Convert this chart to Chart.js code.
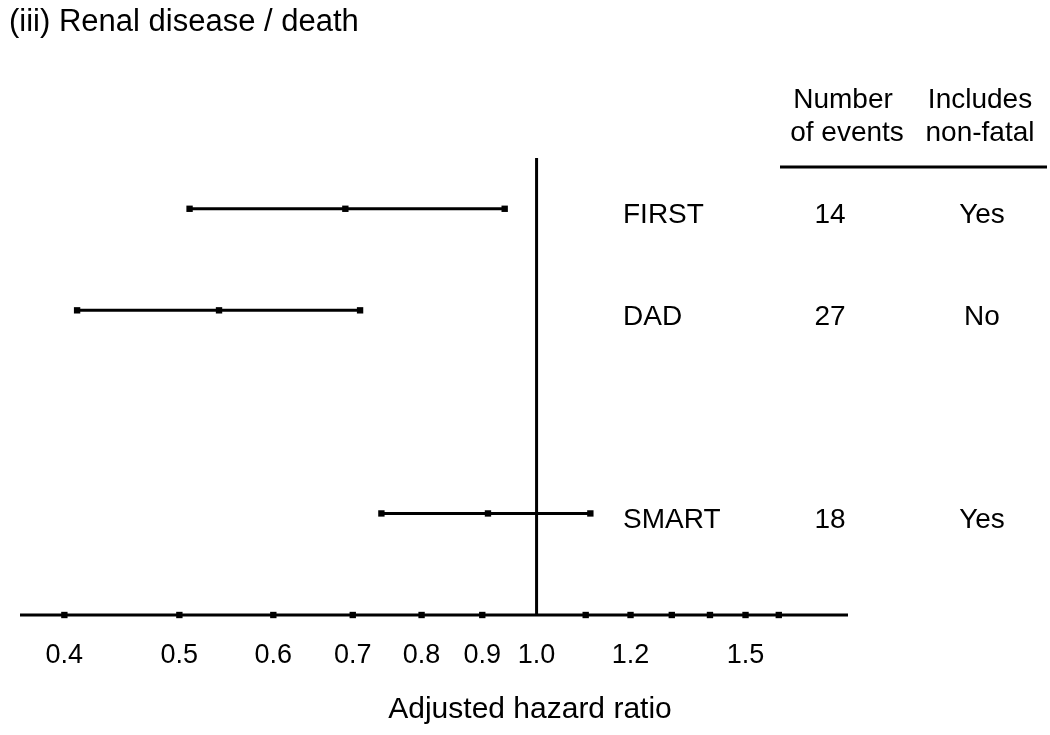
<!DOCTYPE html>
<html>
<head>
<meta charset="utf-8">
<script src="https://cdn.jsdelivr.net/npm/chart.js@4.4.1/dist/chart.umd.min.js"></script>
<style>
	html, body { margin: 0; padding: 0; background: #fff; }
	#wrap { width: 1050px; height: 735px; position: relative; }
</style>
</head>
<body>
<div id="wrap"><canvas id="plot" width="1050" height="735"></canvas></div>
<script>
// study rows
const studies = ['FIRST', 'DAD', 'SMART'];
const rows = [1, 2, 4];
const hr = [0.69, 0.54, 0.91];
const lower = [0.51, 0.41, 0.74];
const upper = [0.94, 0.71, 1.11];
const events = ['14', '27', '18'];
const nonFatal = ['Yes', 'No', 'Yes'];

// x axis
const tickValues = [0.4, 0.5, 0.6, 0.7, 0.8, 0.9, 1.1, 1.2, 1.3, 1.4, 1.5, 1.6];
const tickLabels = ['0.4', '0.5', '0.6', '0.7', '0.8', '0.9', '1.0', '1.2', '1.5'];
const labelValues = [0.4, 0.5, 0.6, 0.7, 0.8, 0.9, 1.0, 1.2, 1.5];
const xMin = 0.367;
const xMax = 1.83;
const yTop = 0.5;
const yAxis = 5;

const FONT = '"Liberation Sans", Arial, sans-serif';

const datasets = [];
studies.forEach((s, i) => {
	datasets.push({
		type: 'line',
		label: s,
		data: [{x: lower[i], y: rows[i]}, {x: hr[i], y: rows[i]}, {x: upper[i], y: rows[i]}],
		borderColor: '#000',
		backgroundColor: '#000',
		borderWidth: 3,
		pointStyle: 'rect',
		pointRadius: 4.5,
		pointBorderWidth: 0,
		pointBackgroundColor: '#000',
		clip: false
	});
});
// horizontal axis line
datasets.push({
	type: 'line',
	data: [{x: xMin, y: yAxis}, {x: xMax, y: yAxis}],
	borderColor: '#000',
	borderWidth: 3,
	pointRadius: 0,
	clip: false
});
// reference line at 1.0
datasets.push({
	type: 'line',
	data: [{x: 1, y: yTop}, {x: 1, y: yAxis}],
	borderColor: '#000',
	borderWidth: 3,
	pointRadius: 0,
	clip: false
});
// tick squares on the axis
datasets.push({
	type: 'scatter',
	data: tickValues.map(v => ({x: v, y: yAxis})),
	pointStyle: 'rect',
	pointRadius: 4.5,
	pointBorderWidth: 0,
	pointBackgroundColor: '#000',
	clip: false
});

const textPlugin = {
	id: 'textPlugin',
	afterDraw(chart) {
		const ctx = chart.ctx;
		const xs = chart.scales.x;
		const ys = chart.scales.y;
		ctx.save();
		ctx.fillStyle = '#000';
		ctx.textBaseline = 'middle';

		ctx.font = '31px ' + FONT;
		ctx.textAlign = 'left';
		ctx.fillText('(iii) Renal disease / death', 9, 22);

		ctx.font = '27px ' + FONT;
		ctx.textAlign = 'center';
		labelValues.forEach((v, i) => {
			ctx.fillText(tickLabels[i], xs.getPixelForValue(v), 656);
		});

		ctx.font = '30px ' + FONT;
		ctx.fillText('Adjusted hazard ratio', 530, 710);

		ctx.font = '28px ' + FONT;
		ctx.fillText('Number', 843, 100);
		ctx.fillText('of events', 847, 133);
		ctx.fillText('Includes', 980, 100);
		ctx.fillText('non-fatal', 980, 133);

		studies.forEach((s, i) => {
			const y = ys.getPixelForValue(rows[i]) + 7;
			ctx.textAlign = 'left';
			ctx.fillText(s, 623, y);
			ctx.textAlign = 'center';
			ctx.fillText(events[i], 830, y);
			ctx.fillText(nonFatal[i], 982, y);
		});

		ctx.strokeStyle = '#000';
		ctx.lineWidth = 3;
		ctx.beginPath();
		ctx.moveTo(780, 167);
		ctx.lineTo(1047, 167);
		ctx.stroke();
		ctx.restore();
	}
};

new Chart(document.getElementById('plot').getContext('2d'), {
	type: 'scatter',
	data: { datasets: datasets },
	options: {
		responsive: false,
		animation: false,
		layout: {
			padding: { left: 20, right: 202, top: 158, bottom: 120 }
		},
		plugins: {
			legend: { display: false },
			tooltip: { enabled: false }
		},
		scales: {
			x: {
				type: 'logarithmic',
				min: xMin,
				max: xMax,
				display: false
			},
			y: {
				type: 'linear',
				min: yTop,
				max: yAxis,
				reverse: true,
				display: false
			}
		}
	},
	plugins: [textPlugin]
});
</script>
</body>
</html>
